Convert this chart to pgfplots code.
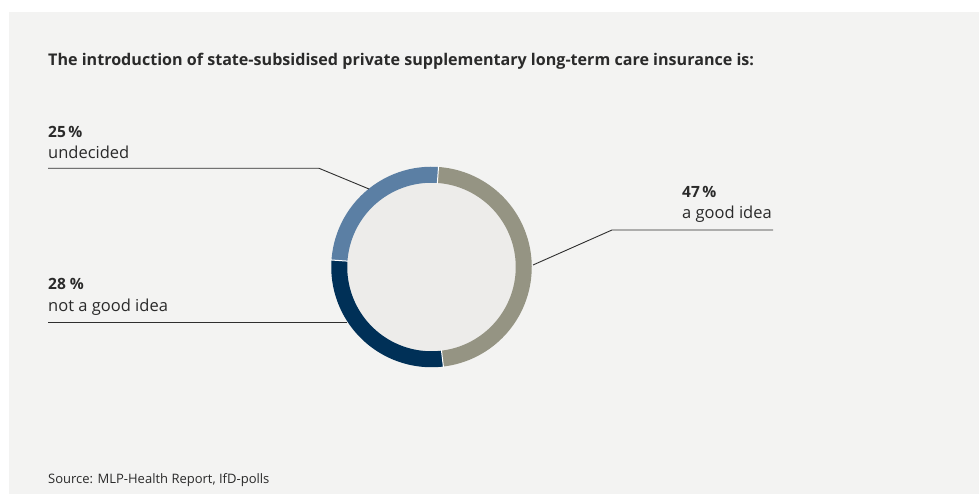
\documentclass[border=0pt]{standalone}
\usepackage{pgfplots}
\pgfplotsset{compat=1.18}
\usepackage{pgfplotstable}
\usepackage{fontspec}
\setmainfont{Open Sans}
\definecolor{bg}{HTML}{F3F3F2}
\definecolor{disk}{HTML}{EDECEA}
\definecolor{cgood}{HTML}{959483}
\definecolor{cnot}{HTML}{003057}
\definecolor{cund}{HTML}{5B7FA4}
\definecolor{txt}{HTML}{2A2A2A}
\definecolor{ln}{HTML}{2E2E2E}
\pgfplotstableread{
label share
good 47
not 28
undecided 25
}\shares
\pgfplotstablegetelem{0}{share}\of\shares \let\sA\pgfplotsretval
\pgfplotstablegetelem{1}{share}\of\shares \let\sB\pgfplotsretval
\pgfplotstablegetelem{2}{share}\of\shares \let\sC\pgfplotsretval
\pgfmathsetmacro\aA{86}
\pgfmathsetmacro\aB{\aA-3.6*\sA}
\pgfmathsetmacro\aC{\aB-3.6*\sB}
\pgfmathsetmacro\aD{\aC-3.6*\sC}
\def\cx{431.5}
\def\cy{227}
\begin{document}
\begin{tikzpicture}
\begin{axis}[width=979pt,height=494pt,scale only axis,
  xmin=0,xmax=979,ymin=0,ymax=494,hide axis,clip=false]
\fill[white] (axis cs:0,0) rectangle (axis cs:979,494);
\fill[bg] (axis cs:9,0) rectangle (axis cs:979,482);
\fill[disk] (axis cs:\cx,\cy) circle[radius=84.5pt];
\addplot[draw=cgood,line width=16pt,domain=\aB:\aA,samples=90] ({\cx+92.25*cos(x)},{\cy+92.25*sin(x)});
\addplot[draw=cnot,line width=16pt,domain=\aC:\aB,samples=60] ({\cx+92.25*cos(x)},{\cy+92.25*sin(x)});
\addplot[draw=cund,line width=16pt,domain=\aD:\aC,samples=60] ({\cx+92.25*cos(x)},{\cy+92.25*sin(x)});
\draw[white,line width=1pt] (axis cs:{\cx+83.5*cos(\aA)},{\cy+83.5*sin(\aA)}) -- (axis cs:{\cx+101*cos(\aA)},{\cy+101*sin(\aA)});
\draw[white,line width=1pt] (axis cs:{\cx+83.5*cos(\aB)},{\cy+83.5*sin(\aB)}) -- (axis cs:{\cx+101*cos(\aB)},{\cy+101*sin(\aB)});
\draw[white,line width=1pt] (axis cs:{\cx+83.5*cos(\aC)},{\cy+83.5*sin(\aC)}) -- (axis cs:{\cx+101*cos(\aC)},{\cy+101*sin(\aC)});
% leader lines
\draw[ln,line width=0.9pt] (axis cs:48,325.7) -- (axis cs:319,325.7) -- (axis cs:369,305);
\draw[ln,line width=0.9pt] (axis cs:48,172) -- (axis cs:347,172);
\draw[ln,line width=0.9pt] (axis cs:533,229) -- (axis cs:612,264) -- (axis cs:773,264);
% texts
\node[anchor=base west,inner sep=0,text=txt,font=\fontsize{16.1}{19}\selectfont\bfseries] at (axis cs:48,428) {The introduction of state-subsidised private supplementary long-term care insurance is:};
\node[anchor=base west,inner sep=0,text=txt,font=\fontsize{15.5}{17}\selectfont\bfseries] at (axis cs:48,356) {25\,\%};
\node[anchor=base west,inner sep=0,text=txt,font=\fontsize{16.5}{19}\selectfont] at (axis cs:48,335) {undecided};
\node[anchor=base west,inner sep=0,text=txt,font=\fontsize{15.5}{17}\selectfont\bfseries] at (axis cs:48,204) {28 \%};
\node[anchor=base west,inner sep=0,text=txt,font=\fontsize{16.5}{19}\selectfont] at (axis cs:48,182) {not a good idea};
\node[anchor=base west,inner sep=0,text=txt,font=\fontsize{15.5}{17}\selectfont\bfseries] at (axis cs:682,296) {47\,\%};
\node[anchor=base west,inner sep=0,text=txt,font=\fontsize{16.5}{19}\selectfont] at (axis cs:682,275) {a good idea};
\node[anchor=base west,inner sep=0,text=txt,font=\fontsize{13}{15}\selectfont] at (axis cs:48,10) {Source: MLP-Health Report, IfD-polls};
\end{axis}
\end{tikzpicture}
\end{document}
